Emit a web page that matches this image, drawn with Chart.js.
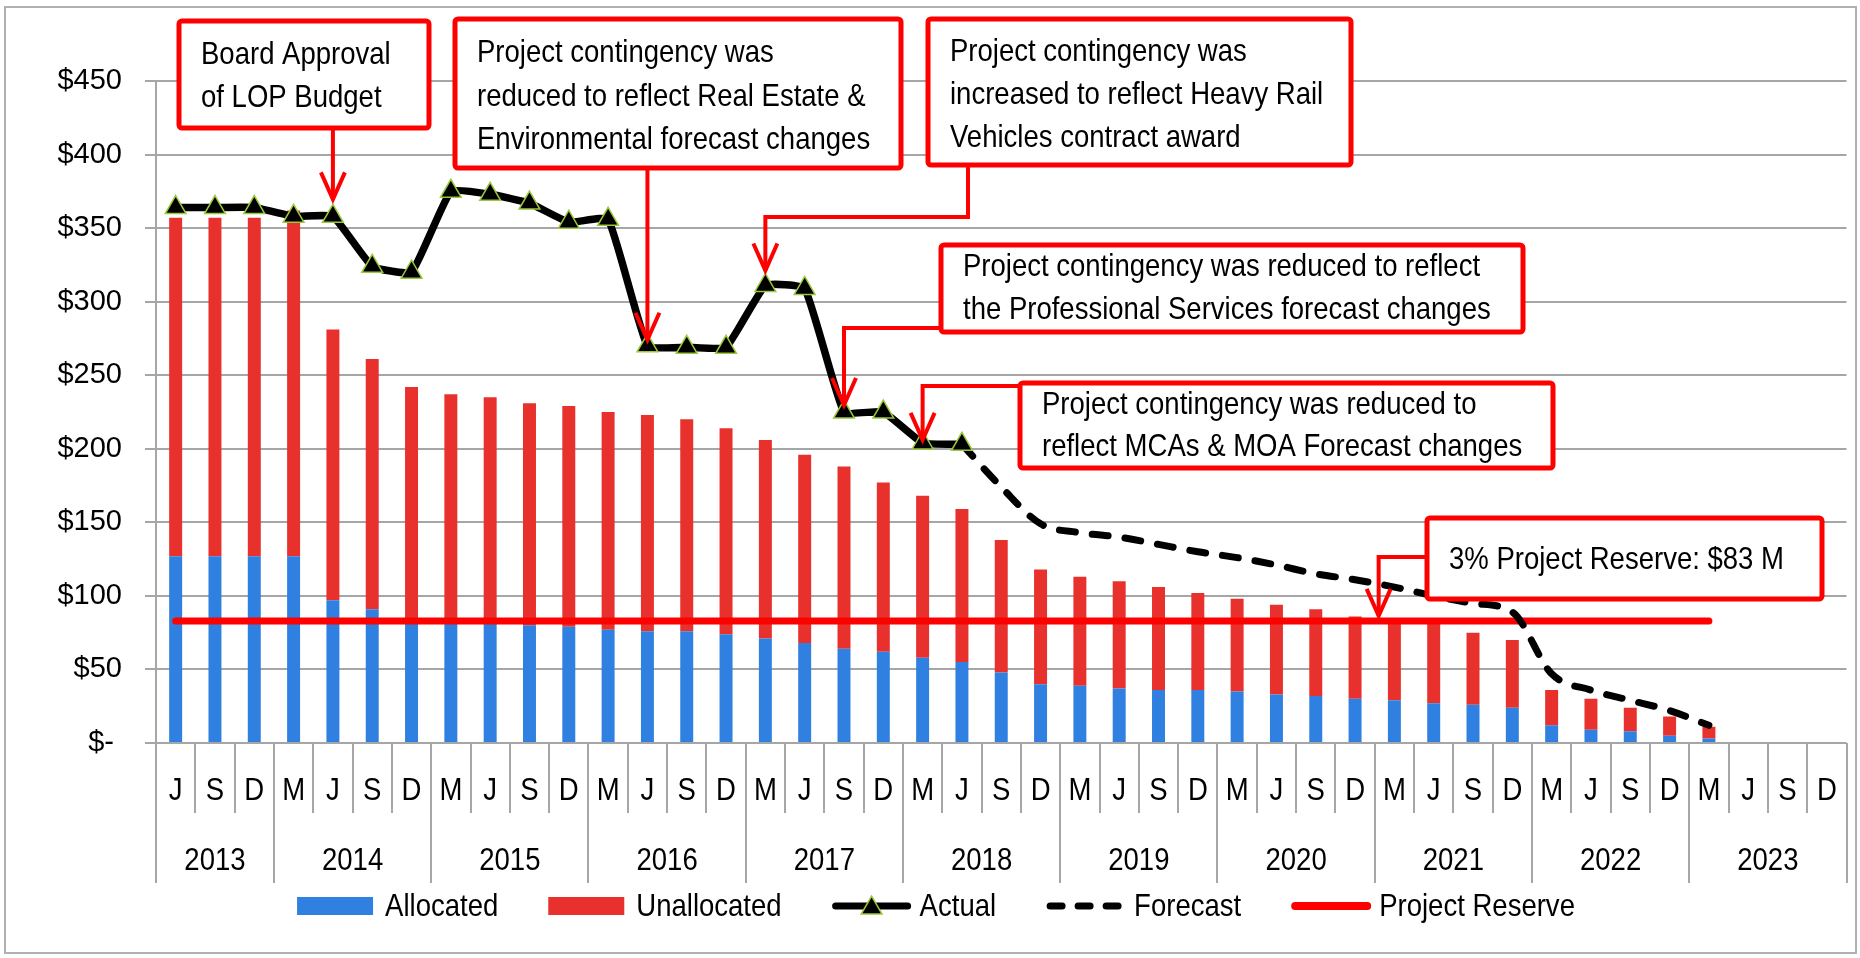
<!DOCTYPE html>
<html>
<head>
<meta charset="utf-8">
<script src="https://cdn.jsdelivr.net/npm/chart.js@4.4.1/dist/chart.umd.min.js"></script>
<style>
  html, body { margin: 0; padding: 0; background: #fff; }
</style>
</head>
<body>
<canvas id="budgetChart" width="1860" height="958"></canvas>
<script>
// Quarter labels (month letter) and the year groups under them
const months = ['J','S','D',
  'M','J','S','D', 'M','J','S','D', 'M','J','S','D', 'M','J','S','D', 'M','J','S','D',
  'M','J','S','D', 'M','J','S','D', 'M','J','S','D', 'M','J','S','D', 'M','J','S','D'];
const years = ['2013','2014','2015','2016','2017','2018','2019','2020','2021','2022','2023'];
const quartersPerYear = [3,4,4,4,4,4,4,4,4,4,4];

// Values in $ millions
const allocated = [127,127,127,127,97,91,81,81,81,80,79,77,76,76,74,71,68,64,62,58,55,
  48,40,39,37,36,36,35,33,32,30,29,27,26,24,12,9,8,5,3,null,null,null];
const unallocated = [230,230,230,235,184,170,161,156,154,151,150,148,147,144,140,135,128,124,115,110,104,
  90,78,74,73,70,66,63,61,59,56,55,56,49,46,24,21,16,13,8,null,null,null];
const actual = [364,364,364,358,358,324,320,375,373,367,354,356,270,269,269,311,309,225,225,204,203,
  null,null,null,null,null,null,null,null,null,null,null,null,null,null,null,null,null,null,null,null,null,null];
const forecast = [null,null,null,null,null,null,null,null,null,null,null,null,null,null,null,null,null,null,null,null,
  203,174,149,143,140,135,130,126,121,115,111,106,100,95,89,47,36,29,22,12,null,null,null];
const reserve = [83,83,83,83,83,83,83,83,83,83,83,83,83,83,83,83,83,83,83,83,
  83,83,83,83,83,83,83,83,83,83,83,83,83,83,83,83,83,83,83,83,null,null,null];

const yTicks = [0,50,100,150,200,250,300,350,400,450];

// Callout texts
const noteTexts = [
  ['Board Approval', 'of LOP Budget'],
  ['Project contingency was', 'reduced to reflect Real Estate &', 'Environmental forecast changes'],
  ['Project contingency was', 'increased to reflect Heavy Rail', 'Vehicles contract award'],
  ['Project contingency was reduced to reflect', 'the Professional Services forecast changes'],
  ['Project contingency was reduced to', 'reflect MCAs & MOA Forecast changes'],
  ['3% Project Reserve: $83 M']
];

const BLUE = '#2f80e0';
const RED = '#e8302c';
const GRID = '#a6a6a6';
const FONT = '"Liberation Sans", Arial, sans-serif';
const TEXT_FONT = '32px ' + FONT;
const SQUEEZE = 0.86;   // horizontal squeeze, closer to the narrow original face

// Callout layout (pixels) and what each arrow points at
const noteLayout = [
  { box: [179, 21, 250, 107], rows: [55, 98], from: null, elbow: null, at: 4, series: 'actual', gap: 17 },
  { box: [455, 19, 446, 149], rows: [53, 97, 140], from: null, elbow: null, at: 12, series: 'actual', gap: 6 },
  { box: [928, 19, 423, 146], rows: [52, 95, 138], from: [968, 165], elbow: 217, at: 15, series: 'actual', gap: 15 },
  { box: [941, 245, 582, 87], rows: [267, 310], from: [941, 328], elbow: 328, at: 17, series: 'actual', gap: 7 },
  { box: [1020, 383, 533, 85], rows: [405, 447], from: [1020, 386], elbow: 386, at: 19, series: 'actual', gap: 3 },
  { box: [1427, 518, 395, 81], rows: [560], from: [1427, 557], elbow: 557, at: 30.6, series: 'reserve', gap: 5 }
];

function text(ctx, str, x, y, align) {
  ctx.save();
  ctx.translate(x, y);
  ctx.scale(SQUEEZE, 1);
  ctx.font = TEXT_FONT;
  ctx.fillStyle = '#000';
  ctx.textAlign = align;
  ctx.textBaseline = 'middle';
  ctx.fillText(str, 0, 0);
  ctx.restore();
}

function textWidth(ctx, str) {
  ctx.save();
  ctx.font = TEXT_FONT;
  const w = ctx.measureText(str).width * SQUEEZE;
  ctx.restore();
  return w;
}

function arrow(ctx, pts) {
  ctx.beginPath();
  ctx.moveTo(pts[0][0], pts[0][1]);
  for (let i = 1; i < pts.length; i++) ctx.lineTo(pts[i][0], pts[i][1]);
  ctx.stroke();
  const [tx, ty] = pts[pts.length - 1];
  ctx.beginPath();
  ctx.moveTo(tx - 12, ty - 27);
  ctx.lineTo(tx, ty);
  ctx.lineTo(tx + 12, ty - 27);
  ctx.stroke();
}

function triangle(ctx, cx, cy, r) {
  ctx.beginPath();
  ctx.moveTo(cx, cy - r);
  ctx.lineTo(cx + r * 0.866, cy + r * 0.5);
  ctx.lineTo(cx - r * 0.866, cy + r * 0.5);
  ctx.closePath();
  ctx.fillStyle = '#000';
  ctx.fill();
  ctx.strokeStyle = '#9bc83c';
  ctx.lineWidth = 1.5;
  ctx.stroke();
}

// x axis (month row + year row), callouts, legend and outer frame
const decor = {
  id: 'decor',
  afterDraw(chart) {
    const { ctx, chartArea: area, scales: { x, y } } = chart;
    const step = x.getPixelForValue(1) - x.getPixelForValue(0);
    const base = area.bottom;
    ctx.save();

    // separators
    ctx.strokeStyle = GRID;
    ctx.lineWidth = 2;
    for (let i = 1; i < months.length; i++) {
      const px = Math.round(x.getPixelForValue(i) - step / 2);
      ctx.beginPath(); ctx.moveTo(px, base); ctx.lineTo(px, base + 70); ctx.stroke();
    }
    let start = 0;
    const bounds = [0];
    quartersPerYear.forEach(n => { start += n; bounds.push(start); });
    bounds.forEach(b => {
      const px = Math.round(x.getPixelForValue(b) - step / 2);
      ctx.beginPath(); ctx.moveTo(px, base); ctx.lineTo(px, base + 140); ctx.stroke();
    });

    // month and year labels
    months.forEach((m, i) => text(ctx, m, x.getPixelForValue(i), base + 48, 'center'));
    years.forEach((yr, k) => {
      const a = bounds[k], b = bounds[k + 1] - 1;
      text(ctx, yr, (x.getPixelForValue(a) + x.getPixelForValue(b)) / 2, base + 118, 'center');
    });

    // callouts
    const series = { actual, reserve };
    noteLayout.forEach((n, k) => {
      const val = series[n.series][Math.floor(n.at)];
      const tx = x.getPixelForValue(n.at);
      const ty = y.getPixelForValue(val) - n.gap;
      const [bx, by, bw, bh] = n.box;
      const pts = n.from
        ? [n.from, [n.from[0], n.elbow], [tx, n.elbow], [tx, ty]]
        : [[tx, by + bh], [tx, ty]];
      ctx.strokeStyle = '#ff0000';
      ctx.lineWidth = 4;
      ctx.lineJoin = 'miter';
      arrow(ctx, pts);

      ctx.beginPath();
      ctx.roundRect(bx, by, bw, bh, 3);
      ctx.fillStyle = '#fff';
      ctx.fill();
      ctx.lineWidth = 5;
      ctx.strokeStyle = '#ff0000';
      ctx.stroke();
      noteTexts[k].forEach((t, r) => text(ctx, t, bx + 22, n.rows[r], 'left'));
    });

    // legend
    const items = [
      { text: 'Allocated', kind: 'box', color: BLUE },
      { text: 'Unallocated', kind: 'box', color: RED },
      { text: 'Actual', kind: 'actual' },
      { text: 'Forecast', kind: 'dash' },
      { text: 'Project Reserve', kind: 'reserve' }
    ];
    const symW = 80, gap = 8, itemGap = 50, cy = 906;
    const widths = items.map(it => symW + gap + textWidth(ctx, it.text));
    const total = widths.reduce((s, w) => s + w, 0) + itemGap * (items.length - 1);
    let lx = 936 - total / 2;
    items.forEach((it, k) => {
      ctx.save();
      if (it.kind === 'box') {
        ctx.fillStyle = it.color;
        ctx.fillRect(lx, cy - 9, symW - 4, 18);
      } else {
        ctx.beginPath();
        ctx.moveTo(lx + 4, cy); ctx.lineTo(lx + symW - 4, cy);
        ctx.lineCap = 'round';
        if (it.kind === 'actual') { ctx.strokeStyle = '#000'; ctx.lineWidth = 7; }
        if (it.kind === 'dash') { ctx.strokeStyle = '#000'; ctx.lineWidth = 7; ctx.setLineDash([12, 16]); }
        if (it.kind === 'reserve') { ctx.strokeStyle = '#ff0000'; ctx.lineWidth = 8; }
        ctx.stroke();
        if (it.kind === 'actual') triangle(ctx, lx + symW / 2, cy + 2, 12);
      }
      ctx.restore();
      text(ctx, it.text, lx + symW + gap, cy + 1, 'left');
      lx += widths[k] + itemGap;
    });

    // outer frame
    ctx.strokeStyle = '#b0b0b0';
    ctx.lineWidth = 2;
    ctx.strokeRect(5, 7, 1851, 946);
    ctx.restore();
  }
};

const ctx = document.getElementById('budgetChart').getContext('2d');
new Chart(ctx, {
  data: {
    labels: months,
    datasets: [
      { type: 'bar', label: 'Allocated', data: allocated, backgroundColor: BLUE,
        stack: 'budget', order: 4, barPercentage: 0.33, categoryPercentage: 1 },
      { type: 'bar', label: 'Unallocated', data: unallocated, backgroundColor: RED,
        stack: 'budget', order: 4, barPercentage: 0.33, categoryPercentage: 1 },
      { type: 'line', label: 'Project Reserve', data: reserve, borderColor: '#ff0000', borderWidth: 7,
        borderCapStyle: 'round', pointRadius: 0, stack: 'reserve', order: 3, fill: false },
      { type: 'line', label: 'Forecast', data: forecast, borderColor: '#000', borderWidth: 7,
        borderDash: [16, 17], borderCapStyle: 'round', cubicInterpolationMode: 'monotone',
        pointRadius: 0, stack: 'forecast', order: 2, fill: false },
      { type: 'line', label: 'Actual', data: actual, borderColor: '#000', borderWidth: 7.5, tension: 0.12,
        pointStyle: 'triangle', pointRadius: 12, pointBackgroundColor: '#000',
        pointBorderColor: '#9bc83c', pointBorderWidth: 1.5, stack: 'actual', order: 1, fill: false }
    ]
  },
  options: {
    responsive: false,
    animation: false,
    devicePixelRatio: 1,
    layout: { padding: { left: 0, right: 11, top: 81, bottom: 75 } },
    plugins: { legend: { display: false }, tooltip: { enabled: false } },
    scales: {
      x: {
        stacked: true,
        grid: { display: false },
        border: { display: false },
        ticks: { display: false },
        afterFit: s => { s.height = 140; }
      },
      y: {
        stacked: true,
        min: 0,
        max: 450,
        afterBuildTicks: s => { s.ticks = yTicks.map(v => ({ value: v })); },
        ticks: {
          color: '#000',
          font: { family: FONT, size: 29 },
          padding: 23,
          callback: v => v === 0 ? '$- ' : '$' + v
        },
        grid: { color: GRID, lineWidth: 2, tickLength: 11 },
        border: { color: GRID, width: 2 },
        afterFit: s => { s.width = 156; }
      }
    }
  },
  plugins: [decor]
});
</script>
</body>
</html>
